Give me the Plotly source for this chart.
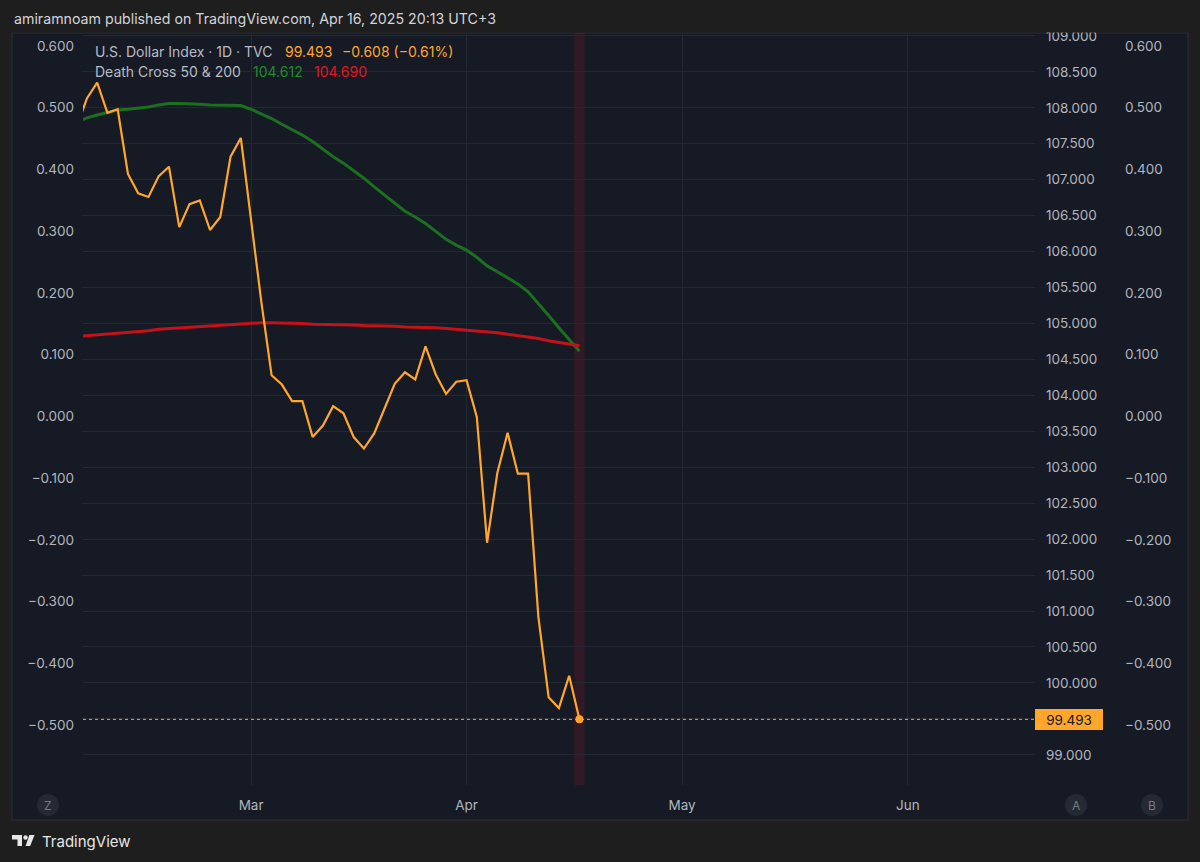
import plotly.graph_objects as go

# ---------------- data ----------------
dates = [
    "2025-02-06", "2025-02-07", "2025-02-10", "2025-02-11", "2025-02-12", "2025-02-13",
    "2025-02-14", "2025-02-17", "2025-02-18", "2025-02-19", "2025-02-20", "2025-02-21",
    "2025-02-24", "2025-02-25", "2025-02-26", "2025-02-27", "2025-02-28",
    "2025-03-03", "2025-03-04", "2025-03-05", "2025-03-06", "2025-03-07",
    "2025-03-10", "2025-03-11", "2025-03-12", "2025-03-13", "2025-03-14",
    "2025-03-17", "2025-03-18", "2025-03-19", "2025-03-20", "2025-03-21",
    "2025-03-24", "2025-03-25", "2025-03-26", "2025-03-27", "2025-03-28",
    "2025-03-31", "2025-04-01", "2025-04-02", "2025-04-03", "2025-04-04",
    "2025-04-07", "2025-04-08", "2025-04-09", "2025-04-10", "2025-04-11",
    "2025-04-14", "2025-04-15", "2025-04-16",
]
dxy_close = [
    107.73, 108.13, 108.35, 107.93, 107.98, 107.08,
    106.81, 106.76, 107.05, 107.18, 106.34, 106.66,
    106.71, 106.30, 106.48, 107.32, 107.58,
    106.41, 105.30, 104.28, 104.15, 103.92,
    103.92, 103.42, 103.58, 103.85, 103.75,
    103.42, 103.26, 103.47, 103.82, 104.16,
    104.32, 104.22, 104.68, 104.29, 104.02,
    104.19, 104.21, 103.70, 101.95, 102.92,
    103.48, 102.91, 102.91, 100.92, 99.80,
    99.65, 100.10, 99.493,
]
ma50 = [
    107.80, 107.86, 107.90, 107.94, 107.97, 107.98,
    107.99, 108.01, 108.04, 108.06, 108.06, 108.06,
    108.05, 108.04, 108.04, 108.04, 108.03,
    107.98, 107.92, 107.85, 107.77, 107.70,
    107.62, 107.53, 107.42, 107.32, 107.23,
    107.13, 107.02, 106.90, 106.79, 106.67,
    106.56, 106.48, 106.39, 106.28, 106.17,
    106.09, 106.02, 105.92, 105.80, 105.72,
    105.64, 105.55, 105.44, 105.28, 105.11,
    104.94, 104.78, 104.612,
]
ma200 = [
    104.82, 104.83, 104.85, 104.86, 104.87, 104.88,
    104.89, 104.90, 104.92, 104.93, 104.94, 104.95,
    104.96, 104.97, 104.98, 104.99, 105.00,
    105.01, 105.01, 105.01, 105.01, 105.00,
    105.00, 104.99, 104.99, 104.99, 104.98,
    104.98, 104.97, 104.97, 104.96, 104.96,
    104.95, 104.95, 104.94, 104.94, 104.93,
    104.92, 104.91, 104.90, 104.88, 104.87,
    104.85, 104.83, 104.82, 104.79, 104.76,
    104.74, 104.71, 104.69,
]
tick_dates = ["2025-03-03", "2025-04-01", "2025-05-01", "2025-06-02"]
tick_labels = ["Mar", "Apr", "May", "Jun"]
holidays = ["2025-04-18"]

change_text = "−0.608 (−0.61%)"
header_text = "amiramnoam published on TradingView.com, Apr 16, 2025 20:13 UTC+3"

# ---------------- style ----------------
PAGE_BG = "#1e1e1e"
PANEL_BG = "#161a25"
GRID = "#242835"
TXT = "#b2b5be"
ORANGE = "#ffa62b"
GREEN = "#1b6f1f"
RED = "#c4121b"
FONT = "Inter, Roboto, sans-serif"

WIDTH, HEIGHT = 1200, 862
L, R, T, B = 83, 12, 33, 77
PW = WIDTH - L - R
PH = HEIGHT - T - B
X_END = 1035  # right edge of the price area


def px(x):
    return (x - L) / PW


def py(y):
    return (HEIGHT - B - y) / PH


fig = go.Figure()
fig.add_trace(go.Scatter(x=dates, y=ma50, mode="lines",
                         line=dict(color=GREEN, width=3), hoverinfo="skip"))
fig.add_trace(go.Scatter(x=dates, y=ma200, mode="lines",
                         line=dict(color=RED, width=3), hoverinfo="skip"))
fig.add_trace(go.Scatter(x=dates, y=dxy_close, mode="lines",
                         line=dict(color=ORANGE, width=2.2), hoverinfo="skip"))
fig.add_trace(go.Scatter(x=[dates[-1]], y=[dxy_close[-1]], mode="markers",
                         marker=dict(color=ORANGE, size=8), hoverinfo="skip"))
# empty traces so the two percentage scales get drawn
fig.add_trace(go.Scatter(x=[], y=[], yaxis="y2", hoverinfo="skip"))
fig.add_trace(go.Scatter(x=[], y=[], yaxis="y3", hoverinfo="skip"))

shapes = []
# chart panel
shapes.append(dict(type="rect", xref="paper", yref="paper",
                   x0=px(12), x1=px(1188), y0=py(820), y1=py(33),
                   fillcolor=PANEL_BG, line=dict(color="#2a2e39", width=1),
                   layer="below"))
# highlighted last bar
shapes.append(dict(type="rect", xref="x", yref="paper",
                   x0="2025-04-15 12:00", x1="2025-04-16 12:00", y0=0, y1=1,
                   fillcolor="rgba(140,25,40,0.24)", line=dict(width=0),
                   layer="below"))
# dotted last-price line
shapes.append(dict(type="line", xref="x domain", yref="y",
                   x0=0, x1=1, y0=dxy_close[-1], y1=dxy_close[-1],
                   line=dict(color=ORANGE, width=1, dash="dot")))
# header cover (clips top axis label like the reference)
shapes.append(dict(type="rect", xref="paper", yref="paper",
                   x0=px(0), x1=px(1200), y0=py(32.5), y1=py(0),
                   fillcolor=PAGE_BG, line=dict(width=0), layer="above"))
# bottom circle buttons
for cx in (48, 1076, 1152):
    shapes.append(dict(type="circle", xref="paper", yref="paper",
                       x0=px(cx - 11), x1=px(cx + 11), y0=py(805 + 11), y1=py(805 - 11),
                       fillcolor="#252934", line=dict(width=0), layer="above"))
# TradingView logo mark
shapes.append(dict(type="rect", xref="paper", yref="paper",
                   x0=px(12), x1=px(22), y0=py(839.5), y1=py(835),
                   fillcolor="#e6e6e6", line=dict(width=0), layer="above"))
shapes.append(dict(type="rect", xref="paper", yref="paper",
                   x0=px(17.5), x1=px(22), y0=py(846), y1=py(835),
                   fillcolor="#e6e6e6", line=dict(width=0), layer="above"))
shapes.append(dict(type="circle", xref="paper", yref="paper",
                   x0=px(23.3), x1=px(27.7), y0=py(839.7), y1=py(835.3),
                   fillcolor="#e6e6e6", line=dict(width=0), layer="above"))
path = "M {a},{b} L {c},{b} L {d},{e} L {f},{e} Z".format(
    a=px(29.3), b=py(835), c=px(34.5), d=px(30.2), e=py(846), f=px(25.6))
shapes.append(dict(type="path", xref="paper", yref="paper", path=path,
                   fillcolor="#e6e6e6", line=dict(width=0), layer="above"))

annotations = []


def ann(text, x, y, color, size, xanchor="left", **kw):
    annotations.append(dict(text=text, xref="paper", yref="paper",
                            x=px(x), y=py(y), xanchor=xanchor, yanchor="middle",
                            showarrow=False, font=dict(family=FONT, size=size, color=color),
                            **kw))


ann(header_text, 12, 19, "#d1d4dc", 14.2)
ann("U.S. Dollar Index · 1D · TVC", 93, 51.7, "#b8bbc4", 14)
ann(f"{dxy_close[-1]:.3f}", 283, 51.7, ORANGE, 14)
ann(change_text, 340, 51.7, ORANGE, 14)
ann("Death Cross 50 & 200", 93, 71.7, "#b8bbc4", 14)
ann(f"{ma50[-1]:.3f}", 251, 71.7, "#1f8a25", 14)
ann(f"{ma200[-1]:.3f}", 312, 71.7, "#e0161e", 14)
for cx, letter in ((48, "Z"), (1076, "A"), (1152, "B")):
    ann(letter, cx, 805, "#787b86", 12, xanchor="center")
ann("TradingView", 40, 841.5, "#e6e6e6", 15)

# last price tag
annotations.append(dict(text=f"{dxy_close[-1]:.3f}", xref="paper", yref="y",
                        x=px(1069), y=dxy_close[-1], xanchor="center", yanchor="middle",
                        showarrow=False, bgcolor=ORANGE, bordercolor=ORANGE,
                        width=62, height=15, borderpad=2,
                        font=dict(family=FONT, size=13.5, color="#131722")))

pct_axis = dict(range=[-0.597, 0.621], dtick=0.1, tick0=0, tickformat=".3f",
                showgrid=False, zeroline=False, showline=False,
                tickfont=dict(family=FONT, size=13.5, color=TXT))

fig.update_layout(
    width=WIDTH, height=HEIGHT,
    margin=dict(l=L, r=R, t=T, b=B),
    paper_bgcolor=PAGE_BG, plot_bgcolor=PANEL_BG,
    showlegend=False,
    shapes=shapes, annotations=annotations,
    xaxis=dict(domain=[0, px(X_END)], type="date",
               range=["2025-02-06 14:53", "2025-06-18 09:36"],
               rangebreaks=[dict(bounds=["sat", "mon"]), dict(values=holidays)],
               tickvals=tick_dates, ticktext=tick_labels,
               showgrid=True, gridcolor=GRID, gridwidth=1,
               zeroline=False, showline=False, ticks="", ticklabelstandoff=10,
               tickfont=dict(family=FONT, size=13.5, color=TXT)),
    yaxis=dict(side="right", anchor="x", range=[98.58, 109.04],
               dtick=0.5, tick0=99, tickformat=".3f",
               showgrid=True, gridcolor=GRID, gridwidth=1,
               zeroline=False, showline=False, ticks="", ticklabelstandoff=10,
               tickfont=dict(family=FONT, size=13.5, color=TXT)),
    yaxis2=dict(overlaying="y", side="left", anchor="x", ticks="",
                ticklabelstandoff=8, **pct_axis),
    yaxis3=dict(overlaying="y", side="right", anchor="free", position=px(1120),
                ticks="", ticklabelstandoff=4, **pct_axis),
)

fig.write_html("out.html", config={"displayModeBar": False},
               post_script="document.body.style.margin='0';document.body.style.padding='0';"
                           "document.documentElement.style.overflow='hidden';")
